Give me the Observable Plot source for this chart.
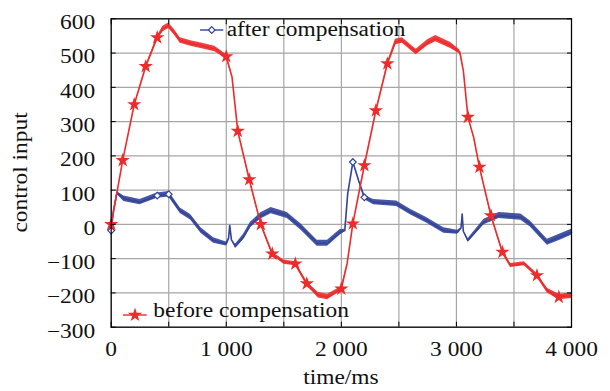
<!DOCTYPE html>
<html>
<head>
<meta charset="utf-8">
<script src="https://cdn.jsdelivr.net/npm/d3@7"></script>
<script src="https://cdn.jsdelivr.net/npm/@observablehq/plot@0.6"></script>
<style>
  html, body { margin: 0; padding: 0; background: #fff; }
  svg { display: block; }
</style>
</head>
<body>
<div id="chart"></div>
<script>
// ---- data ----
const redT = [0, 100, 200, 300, 400, 450, 500, 550, 600, 700, 800, 900, 1000, 1050, 1100, 1200, 1300, 1400, 1500, 1600, 1700, 1800, 1880, 2000, 2050, 2100, 2200, 2300, 2400, 2470, 2530, 2650, 2750, 2820, 2950, 3030, 3060, 3100, 3150, 3200, 3300, 3400, 3470, 3590, 3700, 3790, 3890, 4000];
const redV = [0, 187, 350, 461, 545, 570, 580, 560, 537, 527, 520, 512, 490, 430, 272, 131, 0, -86, -110, -115, -173, -207, -212, -188, -114, 2, 172, 332, 469, 532, 537, 503, 530, 542, 522, 503, 449, 313, 254, 167, 26, -81, -120, -115, -149, -193, -212, -208];
const redNoise = [0, 0, 0, 2, 5, 8, 8, 8, 8, 8, 8, 8, 6, 0, 0, 2, 3, 5, 6, 6, 6, 8, 8, 6, 0, 0, 2, 2, 3, 8, 8, 8, 9, 9, 9, 6, 0, 0, 2, 2, 3, 5, 6, 6, 6, 7, 8, 8];
const redMarkT = [0, 100, 200, 300, 400, 1000, 1100, 1200, 1300, 1400, 1600, 1700, 2000, 2100, 2200, 2300, 2400, 3100, 3200, 3300, 3400, 3700, 3890];

const blueT = [0, 20, 50, 110, 250, 400, 500, 600, 690, 780, 890, 1000, 1020, 1030, 1045, 1080, 1150, 1210, 1300, 1390, 1530, 1650, 1790, 1880, 1990, 2030, 2055, 2100, 2150, 2200, 2280, 2480, 2600, 2740, 2890, 3010, 3040, 3050, 3060, 3100, 3240, 3370, 3560, 3640, 3790, 3900, 4000];
const blueV = [-18, 40, 92, 75, 65, 84, 88, 40, 21, -18, -47, -57, -40, -3, -45, -64, -37, -2, 25, 40, 26, -8, -55, -55, -23, -18, 89, 182, 128, 79, 65, 60, 36, 12, -18, -23, -10, 30, -20, -47, 7, 26, 21, 2, -52, -37, -23];
const blueNoise = [0, 0, 4, 8, 8, 8, 8, 8, 8, 8, 8, 6, 0, 0, 0, 6, 8, 8, 9, 9, 9, 9, 9, 9, 8, 4, 0, 0, 2, 6, 8, 8, 8, 8, 8, 6, 0, 0, 0, 5, 8, 9, 9, 9, 9, 9, 9];
const blueMarkT = [0, 400, 500, 2100, 2200];

const xLabelTicks = [0, 1000, 2000, 3000, 4000];
const xGridTicks = [0, 500, 1000, 1500, 2000, 2500, 3000, 3500, 4000];
const yTicks = [-300, -200, -100, 0, 100, 200, 300, 400, 500, 600];

const seriesNames = ["after compensation", "before compensation"];
const xTitle = "time/ms";
const yTitle = "control input";

// ---- build tables ----
const red = redT.map((t, i) => ({t, v: redV[i], n: redNoise[i]}));
const blue = blueT.map((t, i) => ({t, v: blueV[i], n: blueNoise[i]}));
const redMarks = red.filter(d => redMarkT.includes(d.t));
const blueMarks = blue.filter(d => blueMarkT.includes(d.t));

const RED = "#ec2b2b";
const BLUE = "#33449a";
const GRID = "#a6a6a6";

const fmtX = d => d === 0 ? "0" : d3.format(",")(d).replace(/,/g, " ");
const fmtY = d => d < 0 ? "\u2212" + (-d) : String(d);

const W = 610, H = 391;
const chart = Plot.plot({
  width: W,
  height: H,
  marginLeft: 110.7,
  marginRight: 39,
  marginTop: 18.3,
  marginBottom: 64.3,
  x: {domain: [0, 4000], label: null},
  y: {domain: [-300, 600], label: null},
  style: {fontFamily: "'Liberation Serif', 'Times New Roman', serif", fontSize: "20px", color: "#111", background: "#fff"},
  marks: [
    Plot.gridX(xGridTicks, {stroke: GRID, strokeOpacity: 1, strokeWidth: 1.2}),
    Plot.gridY(yTicks, {stroke: GRID, strokeOpacity: 1, strokeWidth: 1.2}),
    Plot.areaY(blue, {x: "t", y1: d => d.v - d.n, y2: d => d.v + d.n, fill: BLUE, fillOpacity: 0.9}),
    Plot.line(blue, {x: "t", y: "v", stroke: BLUE, strokeWidth: 1.6}),
    Plot.dot(blueMarks, {x: "t", y: "v", symbol: "diamond2", stroke: BLUE, fill: "white", r: 3, strokeWidth: 1.2}),
    Plot.areaY(red, {x: "t", y1: d => d.v - d.n, y2: d => d.v + d.n, fill: RED, fillOpacity: 0.9}),
    Plot.line(red, {x: "t", y: "v", stroke: RED, strokeWidth: 1.6}),
    Plot.dot(redMarks, {x: "t", y: "v", symbol: "star", fill: RED, r: 4.5}),
    Plot.frame({stroke: "#000", strokeWidth: 1.2}),
    Plot.axisX({ticks: xLabelTicks, anchor: "bottom", tickSize: 0, tickPadding: 15, tickFormat: fmtX, label: null, fill: "#111"}),
    Plot.axisX({ticks: xGridTicks, anchor: "bottom", tickSize: -5, tickFormat: () => "", label: null, stroke: "#000"}),
    Plot.axisX({ticks: xGridTicks, anchor: "top", tickSize: -5, tickFormat: () => "", label: null, stroke: "#000"}),
    Plot.axisY({ticks: yTicks, anchor: "left", tickSize: 0, tickPadding: 16, dy: 4, tickFormat: fmtY, label: null, fill: "#111"}),
    Plot.axisY({ticks: yTicks, anchor: "left", tickSize: -5, tickFormat: () => "", label: null, stroke: "#000"}),
    Plot.axisY({ticks: yTicks, anchor: "right", tickSize: -5, tickFormat: () => "", label: null, stroke: "#000"})
  ]
});

document.getElementById("chart").append(chart);

// ---- legend and axis titles ----
const svg = d3.select(chart);
const star = d3.symbol(d3.symbolStar, Math.PI * 4.5 * 4.5)();
const diamond = d3.symbol(d3.symbolDiamond2, Math.PI * 3 * 3)();

const lg = svg.append("g").attr("class", "legend");
// after compensation (top)
lg.append("line").attr("x1", 200).attr("x2", 223.3).attr("y1", 30).attr("y2", 30).attr("stroke", BLUE).attr("stroke-width", 1.4);
lg.append("path").attr("d", diamond).attr("transform", "translate(211.7,30)").attr("fill", "white").attr("stroke", BLUE).attr("stroke-width", 1.2);
lg.append("text").attr("x", 226.7).attr("y", 35.5).attr("text-anchor", "start").attr("fill", "#111").text(seriesNames[0]);
// before compensation (bottom)
lg.append("line").attr("x1", 123).attr("x2", 146.7).attr("y1", 315).attr("y2", 315).attr("stroke", RED).attr("stroke-width", 1.4);
lg.append("path").attr("d", star).attr("transform", "translate(135,315)").attr("fill", RED);
lg.append("text").attr("x", 153.3).attr("y", 317).attr("text-anchor", "start").attr("fill", "#111").text(seriesNames[1]);

svg.append("text").attr("x", 341).attr("y", 384).attr("text-anchor", "middle").attr("fill", "#111").text(xTitle);
svg.append("text").attr("transform", "translate(27,172.5) rotate(-90)").attr("text-anchor", "middle").attr("fill", "#111").text(yTitle);

// the reference font is wider than Times: stretch the glyphs horizontally
function stretch() {
  chart.querySelectorAll("text").forEach(t => {
    const len = t.getComputedTextLength();
    if (len > 0 && !t.hasAttribute("textLength")) {
      t.setAttribute("textLength", (len * 1.17).toFixed(2));
      t.setAttribute("lengthAdjust", "spacingAndGlyphs");
    }
  });
}
if (document.fonts && document.fonts.ready) document.fonts.ready.then(stretch); else stretch();
</script>
</body>
</html>
